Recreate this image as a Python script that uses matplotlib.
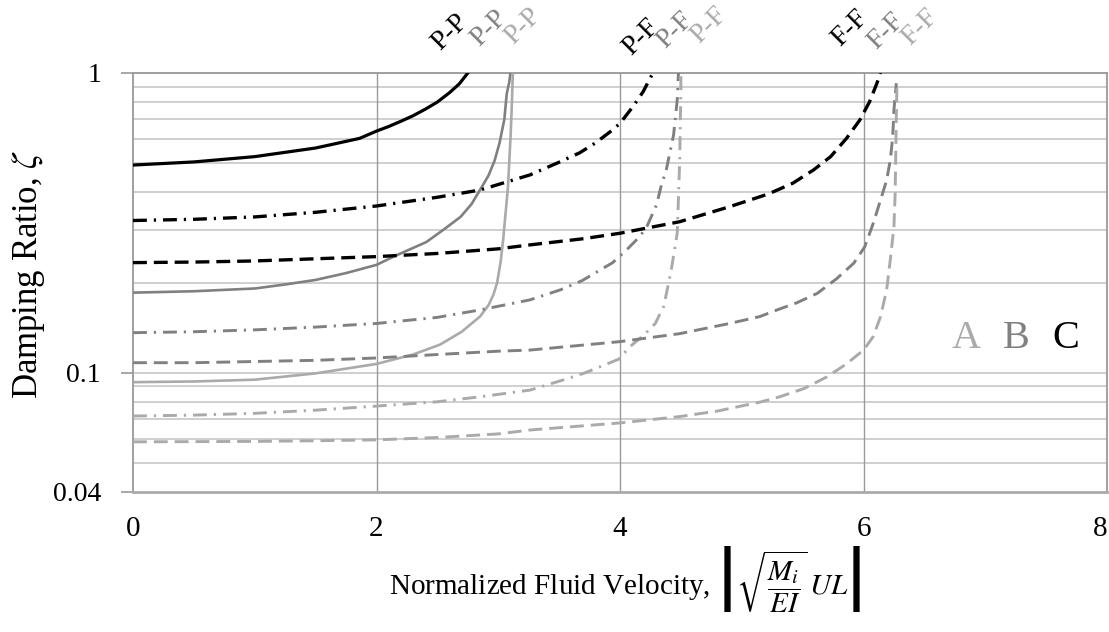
import matplotlib
matplotlib.use("Agg")
import matplotlib.pyplot as plt
from matplotlib.ticker import FixedLocator, NullFormatter, FixedFormatter

plt.rcParams['font.family'] = ['Liberation Serif', 'DejaVu Serif']
plt.rcParams['mathtext.fontset'] = 'stix'
plt.rcParams['lines.scale_dashes'] = False

# ---- data ----
x_C_PP = [0, 0.5, 1.0, 1.5, 1.86, 2.0, 2.1, 2.2, 2.3, 2.4, 2.5, 2.6, 2.68, 2.75]
y_C_PP = [0.493, 0.505, 0.526, 0.562, 0.605, 0.64, 0.663, 0.69, 0.72, 0.757, 0.80, 0.86, 0.92, 1.0]

x_B_PP = [0, 0.5, 1.0, 1.25, 1.5, 1.75, 2.0, 2.14, 2.41, 2.55, 2.69, 2.78, 2.85, 2.92, 2.97, 3.01, 3.05, 3.07, 3.09, 3.1]
y_B_PP = [0.185, 0.187, 0.191, 0.197, 0.204, 0.215, 0.229, 0.244, 0.273, 0.3, 0.331, 0.365, 0.407, 0.455, 0.51, 0.583, 0.7, 0.855, 0.93, 1.0]

x_A_PP = [0, 0.5, 1.0, 1.5, 2.0, 2.3, 2.52, 2.7, 2.85, 2.92, 2.96, 2.99, 3.02, 3.04, 3.06, 3.08, 3.1, 3.11, 3.12]
y_A_PP = [0.093, 0.0935, 0.0948, 0.0995, 0.107, 0.115, 0.124, 0.137, 0.154, 0.168, 0.182, 0.199, 0.235, 0.277, 0.34, 0.417, 0.6, 0.753, 1.0]

x_C_PF = [0, 0.5, 1.0, 1.5, 2.0, 2.5, 2.85, 3.26, 3.51, 3.67, 3.8, 3.92, 4.0, 4.11, 4.19, 4.27]
y_C_PF = [0.322, 0.325, 0.331, 0.343, 0.36, 0.385, 0.407, 0.457, 0.506, 0.542, 0.585, 0.637, 0.679, 0.776, 0.866, 1.0]

x_B_PF = [0, 0.5, 1.0, 1.5, 2.0, 2.5, 2.85, 3.26, 3.51, 3.69, 3.94, 4.05, 4.16, 4.22, 4.3, 4.34, 4.38, 4.44, 4.47, 4.48]
y_B_PF = [0.136, 0.137, 0.139, 0.142, 0.146, 0.153, 0.162, 0.175, 0.189, 0.203, 0.233, 0.256, 0.284, 0.307, 0.363, 0.423, 0.475, 0.621, 0.813, 1.0]

x_A_PF = [0, 0.5, 1.0, 1.5, 2.0, 2.5, 2.85, 3.26, 3.53, 3.71, 3.99, 4.08, 4.2, 4.29, 4.36, 4.42, 4.47, 4.48, 4.49, 4.495, 4.5, 4.5]
y_A_PF = [0.0717, 0.0722, 0.0732, 0.075, 0.0774, 0.08, 0.0831, 0.0875, 0.0945, 0.0998, 0.111, 0.122, 0.134, 0.146, 0.167, 0.219, 0.292, 0.382, 0.506, 0.662, 0.878, 1.0]

x_C_FF = [0, 0.5, 1.0, 1.5, 2.0, 2.5, 3.0, 3.26, 3.7, 4.0, 4.49, 4.9, 5.22, 5.42, 5.59, 5.73, 5.86, 5.97, 6.05, 6.11, 6.14]
y_C_FF = [0.233, 0.234, 0.236, 0.24, 0.244, 0.25, 0.259, 0.267, 0.28, 0.292, 0.319, 0.358, 0.395, 0.429, 0.475, 0.526, 0.605, 0.697, 0.802, 0.924, 1.0]

x_B_FF = [0, 0.5, 1.0, 1.5, 2.0, 2.5, 3.0, 3.26, 4.0, 4.49, 4.9, 5.15, 5.29, 5.45, 5.62, 5.78, 5.92, 6.01, 6.08, 6.14, 6.19, 6.22, 6.24, 6.25, 6.27]
y_B_FF = [0.108, 0.108, 0.109, 0.11, 0.112, 0.115, 0.118, 0.119, 0.127, 0.135, 0.146, 0.154, 0.162, 0.171, 0.184, 0.206, 0.232, 0.263, 0.315, 0.377, 0.439, 0.512, 0.613, 0.753, 0.924]

x_A_FF = [0, 0.5, 1.0, 1.5, 2.0, 2.5, 3.0, 3.26, 4.0, 4.49, 4.8, 5.15, 5.31, 5.51, 5.7, 5.86, 6.0, 6.08, 6.14, 6.19, 6.22, 6.25, 6.26, 6.265, 6.27, 6.275]
y_A_FF = [0.0588, 0.0589, 0.059, 0.0593, 0.0597, 0.0608, 0.0625, 0.0644, 0.068, 0.0714, 0.0745, 0.0798, 0.0831, 0.0885, 0.0969, 0.107, 0.119, 0.132, 0.154, 0.189, 0.238, 0.307, 0.397, 0.54, 0.734, 0.924]

x_ticks = [0, 2, 4, 6, 8]
y_tick_vals = [0.04, 0.1, 1]
y_tick_labels = ['0.04', '0.1', '1']
y_grid_vals = [0.05, 0.06, 0.07, 0.08, 0.09, 0.1, 0.2, 0.3, 0.4, 0.5, 0.6, 0.7, 0.8, 0.9, 1.0]

top_labels = ['P-P', 'P-P', 'P-P', 'P-F', 'P-F', 'P-F', 'F-F', 'F-F', 'F-F']
top_label_x = [2.60, 2.92, 3.20, 4.17, 4.45, 4.73, 5.89, 6.18, 6.46]
legend_letters = ['A', 'B', 'C']

# ---- styles ----
cC, cB, cA = '#000000', '#808080', '#aaaaaa'
solid = '-'
dashdot = (0, (10, 5, 1.6, 5))
dashed = (0, (10, 5))

fig = plt.figure(figsize=(11.09, 6.32), dpi=100)
ax = fig.add_axes([133 / 1109, 1 - 492 / 632, (1107 - 133) / 1109, (492 - 73) / 632])
ax.set_yscale('log')
ax.set_xlim(0, 8)
ax.set_ylim(0.04, 1)

# grid
for v in y_grid_vals:
    ax.axhline(v, color='#cccccc', lw=1.3, zorder=0)
for xv in x_ticks[1:-1]:
    ax.axvline(xv, color='#999999', lw=1.0, zorder=0)

series = [
    (x_C_PP, y_C_PP, cC, solid, 2.3),
    (x_B_PP, y_B_PP, cB, solid, 1.9),
    (x_A_PP, y_A_PP, cA, solid, 1.9),
    (x_C_PF, y_C_PF, cC, dashdot, 2.4),
    (x_B_PF, y_B_PF, cB, dashdot, 2.1),
    (x_A_PF, y_A_PF, cA, dashdot, 2.1),
    (x_C_FF, y_C_FF, cC, dashed, 2.4),
    (x_B_FF, y_B_FF, cB, dashed, 2.1),
    (x_A_FF, y_A_FF, cA, dashed, 2.1),
]
for xs, ys, c, ls, lw in series:
    ax.plot(xs, ys, color=c, linestyle=ls, lw=lw, zorder=3, solid_joinstyle='round')

# ticks
ax.xaxis.set_major_locator(FixedLocator(x_ticks))
ax.xaxis.set_minor_locator(FixedLocator([]))
ax.tick_params(axis='x', which='both', length=0, pad=17, labelsize=21)
ax.yaxis.set_major_locator(FixedLocator(y_tick_vals))
ax.yaxis.set_major_formatter(FixedFormatter(y_tick_labels))
ax.yaxis.set_minor_locator(FixedLocator([]))
ax.yaxis.set_minor_formatter(NullFormatter())
ax.tick_params(axis='y', which='major', length=9, width=1.2, color='#999999', pad=14, labelsize=20)
xtl = ax.get_xticklabels()
xtl[-1].set_horizontalalignment('right')

for s in ax.spines.values():
    s.set_color('#999999')
    s.set_linewidth(1.3)
ax.spines['bottom'].set_color('#aaaaaa')
ax.spines['bottom'].set_linewidth(2)

ax.set_ylabel(r'Damping Ratio, $\zeta$', fontsize=25)
ax.yaxis.set_label_coords(-0.088, 0.52)
ax.set_xlabel(r'Normalized Fluid Velocity, $\left|\sqrt{\dfrac{M_i}{EI}}\,UL\right|$', fontsize=21)
ax.xaxis.set_label_coords(0.505, -0.125)

# top rotated labels
trans = ax.get_xaxis_transform()
label_colors = [cC, cB, cA] * 3
label_y = [1.098, 1.107, 1.112, 1.085, 1.102, 1.114, 1.107, 1.100, 1.110]
for t, xv, c, yv in zip(top_labels, top_label_x, label_colors, label_y):
    ax.text(xv, yv, t, rotation=45, color=c, fontsize=20, ha='center', va='center',
            transform=trans, clip_on=False)

# A B C legend letters
for letter, c, xp in zip(legend_letters, [cA, cB, cC], [966, 1016, 1066]):
    fig.text(xp / 1109, 1 - 338 / 632, letter, color=c, fontsize=29, ha='center', va='center')

fig.savefig('out.png', dpi=100)
